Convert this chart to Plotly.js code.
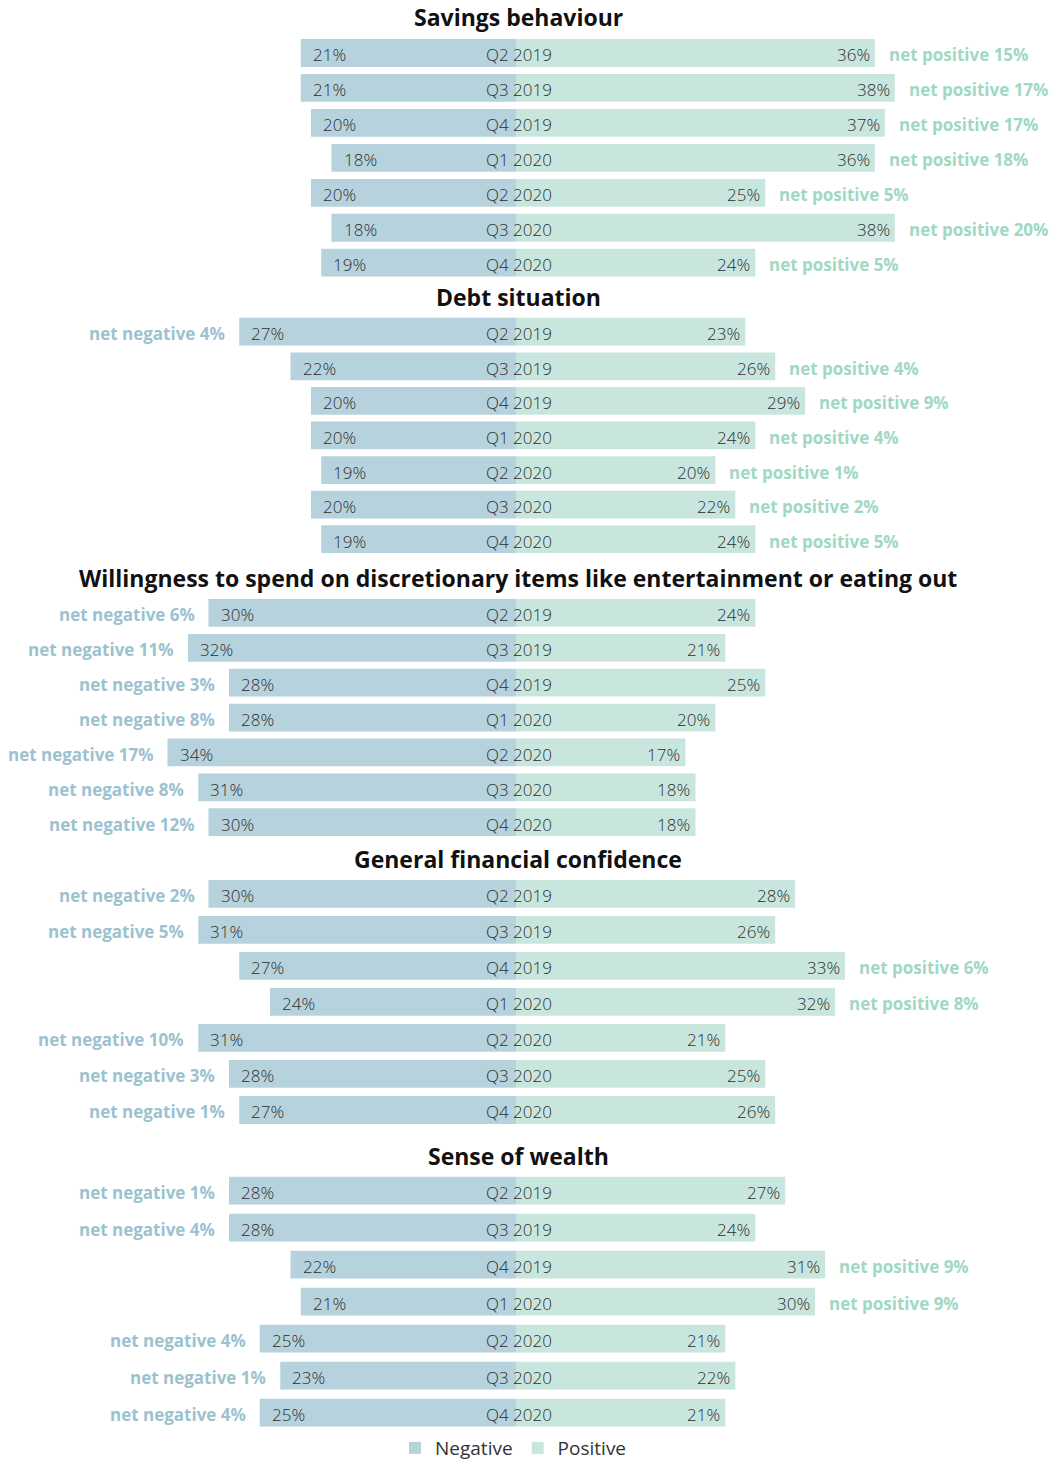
<!DOCTYPE html>
<html>
<head>
<meta charset="utf-8">
<script src="https://cdn.plot.ly/plotly-3.0.1.min.js"></script>
<style>html,body{margin:0;padding:0;background:#fff;}#chart{width:1061px;height:1467px;}</style>
</head>
<body>
<div id="chart"></div>
<script>
// ---------------- DATA ----------------
const quarters = ['Q2 2019','Q3 2019','Q4 2019','Q1 2020','Q2 2020','Q3 2020','Q4 2020'];
const sectionTitles = [
  'Savings behaviour',
  'Debt situation',
  'Willingness to spend on discretionary items like entertainment or eating out',
  'General financial confidence',
  'Sense of wealth'
];
const savingsNegative = [21, 21, 20, 18, 20, 18, 19];
const savingsPositive = [36, 38, 37, 36, 25, 38, 24];
const savingsNet      = [15, 17, 17, 18, 5, 20, 5];

const debtNegative = [27, 22, 20, 20, 19, 20, 19];
const debtPositive = [23, 26, 29, 24, 20, 22, 24];
const debtNet      = [-4, 4, 9, 4, 1, 2, 5];

const spendNegative = [30, 32, 28, 28, 34, 31, 30];
const spendPositive = [24, 21, 25, 20, 17, 18, 18];
const spendNet      = [-6, -11, -3, -8, -17, -8, -12];

const confidenceNegative = [30, 31, 27, 24, 31, 28, 27];
const confidencePositive = [28, 26, 33, 32, 21, 25, 26];
const confidenceNet      = [-2, -5, 6, 8, -10, -3, -1];

const wealthNegative = [28, 28, 22, 21, 25, 23, 25];
const wealthPositive = [27, 24, 31, 30, 21, 22, 21];
const wealthNet      = [-1, -4, 9, 9, -4, -1, -4];

// ---------------- STYLE / LAYOUT ----------------
const W = 1061, H = 1467;
const FONT = 'Open Sans, sans-serif';
const NEG_COLOR = '#b6d2dd';
const POS_COLOR = '#c9e6de';
const NEG_TEXT = '#9cc2d0';
const POS_TEXT = '#a0d8c3';
const VAL_TEXT = '#2e2e2e';
const CENTER_PX = 516, NEG_PX_PER_UNIT = 10.25, POS_PX_PER_UNIT = 9.97, BAR_PX = 27.8;

const sections = [
  {neg: savingsNegative, pos: savingsPositive, net: savingsNet, top: 35.5, bottom: 280.2, titleY: 17},
  {neg: debtNegative, pos: debtPositive, net: debtNet, top: 314.4, bottom: 556.5, titleY: 297},
  {neg: spendNegative, pos: spendPositive, net: spendNet, top: 595.5, bottom: 839.6, titleY: 578},
  {neg: confidenceNegative, pos: confidencePositive, net: confidenceNet, top: 875.8, bottom: 1128, titleY: 859},
  {neg: wealthNegative, pos: wealthPositive, net: wealthNet, top: 1172.2, bottom: 1431.2, titleY: 1156}
];

const py = px => 1 - px / H;
const traces = [];
const annotations = [];
const layout = {
  width: W, height: H,
  margin: {l: 0, r: 0, t: 0, b: 0, autoexpand: false},
  paper_bgcolor: '#fff', plot_bgcolor: '#fff',
  barmode: 'overlay',
  showlegend: true,
  hovermode: false,
  font: {family: FONT, color: VAL_TEXT},
  xaxis: {range: [-CENTER_PX / NEG_PX_PER_UNIT, (W - CENTER_PX) / NEG_PX_PER_UNIT], visible: false, fixedrange: true},
  xaxis2: {range: [-CENTER_PX / POS_PX_PER_UNIT, (W - CENTER_PX) / POS_PX_PER_UNIT], visible: false, fixedrange: true, overlaying: 'x'},
  legend: {
    orientation: 'h', x: 0.484, xanchor: 'center', y: 0, yanchor: 'bottom',
    font: {family: FONT, size: 19, color: '#333'}, itemwidth: 30, traceorder: 'normal',
    bgcolor: 'rgba(0,0,0,0)'
  },
  annotations: annotations
};

sections.forEach((s, i) => {
  const yName = i === 0 ? 'y' : 'y' + (i + 1);
  const axKey = i === 0 ? 'yaxis' : 'yaxis' + (i + 1);
  const pitch = (s.bottom - s.top) / 7;
  const w = BAR_PX / pitch;
  layout[axKey] = {
    domain: [py(s.bottom), py(s.top)], type: 'category', categoryarray: quarters,
    range: [6.5, -0.5], visible: false, fixedrange: true, anchor: 'x'
  };
  traces.push({
    type: 'bar', orientation: 'h', name: 'Negative', y: quarters, x: s.neg.map(v => -v),
    xaxis: 'x', yaxis: yName, width: w, marker: {color: NEG_COLOR}, showlegend: i === 0,
    hoverinfo: 'skip', legendgroup: 'neg'
  });
  traces.push({
    type: 'bar', orientation: 'h', name: 'Positive', y: quarters, x: s.pos,
    xaxis: 'x2', yaxis: yName, width: w, marker: {color: POS_COLOR}, showlegend: i === 0,
    hoverinfo: 'skip', legendgroup: 'pos'
  });
  annotations.push({
    xref: 'paper', yref: 'paper', x: 518 / W, y: py(s.titleY), xanchor: 'center', yanchor: 'middle',
    text: '<b>' + sectionTitles[i] + '</b>', showarrow: false,
    font: {family: FONT, size: 23, color: '#111', weight: 700}
  });
  quarters.forEach((q, j) => {
    annotations.push({
      xref: 'x', yref: yName, x: 0, y: q, xanchor: 'center', yanchor: 'middle', xshift: 3, yshift: -2,
      text: q, showarrow: false, font: {family: FONT, size: 17, color: VAL_TEXT, weight: 300}
    });
    annotations.push({
      xref: 'x', yref: yName, x: -s.neg[j], y: q, xanchor: 'left', yanchor: 'middle', xshift: 10, yshift: -2,
      text: s.neg[j] + '%', showarrow: false, font: {family: FONT, size: 17, color: VAL_TEXT, weight: 300}
    });
    annotations.push({
      xref: 'x2', yref: yName, x: s.pos[j], y: q, xanchor: 'right', yanchor: 'middle', xshift: -3, yshift: -2,
      text: s.pos[j] + '%', showarrow: false, font: {family: FONT, size: 17, color: VAL_TEXT, weight: 300}
    });
    const n = s.net[j];
    if (n >= 0) {
      annotations.push({
        xref: 'x2', yref: yName, x: s.pos[j], y: q, xanchor: 'left', yanchor: 'middle', xshift: 12, yshift: -2,
        text: '<b>net positive ' + n + '%</b>', showarrow: false, font: {family: FONT, size: 17, color: POS_TEXT}
      });
    } else {
      annotations.push({
        xref: 'x', yref: yName, x: -s.neg[j], y: q, xanchor: 'right', yanchor: 'middle', xshift: -12, yshift: -2,
        text: '<b>net negative ' + (-n) + '%</b>', showarrow: false, font: {family: FONT, size: 17, color: NEG_TEXT}
      });
    }
  });
});

Plotly.newPlot('chart', traces, layout, {displayModeBar: false, staticPlot: true});
</script>
</body>
</html>
